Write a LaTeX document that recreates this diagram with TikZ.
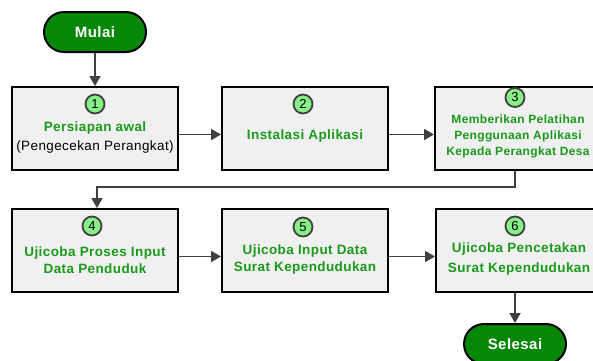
\documentclass[tikz,border=0pt]{standalone}
\usepackage{fontspec}
\setmainfont{Liberation Sans}
\newfontfamily\flowfont[LetterSpace=3]{Liberation Sans}
\usetikzlibrary{arrows.meta,calc}

\definecolor{boxgray}{HTML}{F0F0F0}
\definecolor{stepgreen}{HTML}{1A9A1A}
\definecolor{termgreen}{HTML}{078707}
\definecolor{badgegreen}{HTML}{86F086}
\definecolor{linegray}{HTML}{404040}

\tikzset{
  stepbox/.style={draw=black, line width=2pt, fill=boxgray,
    minimum width=166pt, minimum height=83pt, inner sep=0pt},
  terminal/.style={draw=black, line width=2pt, fill=termgreen,
    rounded corners=20pt, minimum width=102pt, minimum height=40pt,
    text=white, font=\flowfont\bfseries\fontsize{15}{16}\selectfont},
  badge/.style={circle, draw=linegray, line width=1.8pt, fill=badgegreen,
    minimum size=19pt, inner sep=0pt, font=\fontsize{13}{13}\selectfont},
  steptext/.style={align=center, text=stepgreen, inner sep=0pt},
  flow/.style={draw=linegray, line width=1.8pt,
    -{Triangle[length=10pt,width=11pt]}},
}

\begin{document}
\begin{tikzpicture}[x=1pt,y=1pt]
\useasboundingbox (0,0) rectangle (593,-360);

% start / end
\node[terminal] (MULAI) at (95,-32) {Mulai};
\node[terminal] (SELESAI) at (515,-344) {Selesai};

% first row
\node[stepbox] (STEP1) at (95,-128.5) {};
\node[stepbox] (STEP2) at (305,-128.5) {};
\node[stepbox] (STEP3) at (518,-128.5) {};
\node[badge] (NUM1) at (95,-104) {1};
\node[badge] (NUM2) at (303,-104) {2};
\node[badge] (NUM3) at (515,-97.5) {3};
\node[steptext, font=\flowfont\fontsize{13.5}{19}\selectfont] (TXT1) at (95,-138)
  {\bfseries Persiapan awal\\\color{black}(Pengecekan Perangkat)};
\node[steptext, font=\flowfont\bfseries\fontsize{13.5}{16}\selectfont] (TXT2) at (305,-136)
  {Instalasi Aplikasi};
\node[steptext, font=\flowfont\bfseries\fontsize{12}{16}\selectfont] (TXT3) at (518,-136)
  {Memberikan Pelatihan\\Penggunaan Aplikasi\\Kepada Perangkat Desa};

% second row
\node[stepbox] (STEP4) at (95,-250.5) {};
\node[stepbox] (STEP5) at (305,-250.5) {};
\node[stepbox] (STEP6) at (519,-250.5) {};
\node[badge] (NUM4) at (92,-226) {4};
\node[badge] (NUM5) at (303,-227) {5};
\node[badge] (NUM6) at (515,-226) {6};
\node[steptext, font=\flowfont\bfseries\fontsize{13.5}{17}\selectfont] (TXT4) at (95,-260)
  {Ujicoba Proses Input\\Data Penduduk};
\node[steptext, font=\flowfont\bfseries\fontsize{13.5}{17}\selectfont] (TXT5) at (305,-259.5)
  {Ujicoba Input Data\\Surat Kependudukan};
\node[steptext, font=\flowfont\bfseries\fontsize{13.5}{20}\selectfont] (TXT6) at (519,-259)
  {Ujicoba Pencetakan\\Surat Kependudukan};

% connectors
\draw[flow] (MULAI) -- (STEP1);
\draw[flow] ([yshift=-6]STEP1.east) -- ([yshift=-6]STEP2.west);
\draw[flow] ([yshift=-6]STEP2.east) -- ([yshift=-6]STEP3.west);
\draw[flow] ([xshift=-3]STEP3.south) -- ++(0,-16) -| ([xshift=2]STEP4.north);
\draw[flow] ([yshift=-6]STEP4.east) -- ([yshift=-6]STEP5.west);
\draw[flow] ([yshift=-6]STEP5.east) -- ([yshift=-6]STEP6.west);
\draw[flow] (STEP6.south -| SELESAI.north) -- (SELESAI.north);
\end{tikzpicture}
\end{document}
